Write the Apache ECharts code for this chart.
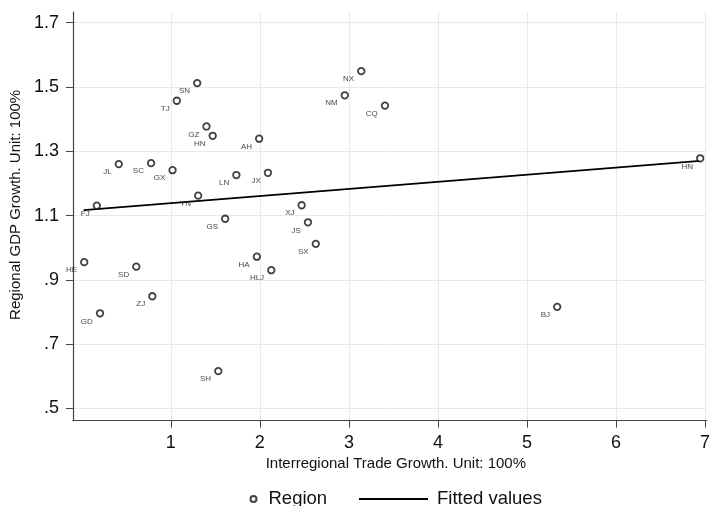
<!DOCTYPE html>
<html>
<head>
<meta charset="utf-8">
<script src="https://cdn.jsdelivr.net/npm/echarts@6/dist/echarts.min.js"></script>
<style>
html,body{margin:0;padding:0;background:#fff;}
#chart{width:713px;height:506px;}
</style>
</head>
<body>
<div id="chart"></div>
<script>
// Region codes
var regions = ['SN','TJ','GZ','HN','AH','JL','SC','GX','LN','JX','YN','FJ','GS','XJ','NX','NM','CQ','JS','HE','SD','ZJ','GD','HA','HLJ','SX','SH','HN','BJ'];
// Interregional trade growth (x)
var tradeGrowth = [1.296,1.067,1.400,1.470,1.992,0.415,0.778,1.019,1.736,2.090,1.307,0.168,1.610,2.469,3.139,2.954,3.405,2.540,0.027,0.612,0.792,0.204,1.966,2.128,2.628,1.533,6.946,5.340];
// Regional GDP growth (y)
var gdpGrowth = [1.512,1.457,1.377,1.348,1.339,1.260,1.263,1.241,1.226,1.233,1.162,1.131,1.090,1.132,1.549,1.474,1.442,1.079,0.955,0.941,0.849,0.796,0.972,0.930,1.012,0.616,1.278,0.816];
// Fitted line end points
var fitX = [0.020, 6.946];
var fitY = [1.117, 1.270];
// Tick values
var xTicks = [1,2,3,4,5,6,7];
var yTicks = [0.5,0.7,0.9,1.1,1.3,1.5,1.7];

var FONT = 'Helvetica, "Liberation Sans", Arial, sans-serif';
var scatterData = regions.map(function(r,i){ return {name:r, value:[tradeGrowth[i], gdpGrowth[i]]}; });
var lineData = fitX.map(function(x,i){ return [x, fitY[i]]; });

var chart = echarts.init(document.getElementById('chart'), null, {renderer:'canvas'});
chart.setOption({
  animation:false,
  backgroundColor:'#fff',
  textStyle:{fontFamily:FONT},
  grid:{left:72, right:0, top:12, bottom:85.3},
  xAxis:{
    type:'value', min:-0.1, max:7.02,
    name:'Interregional Trade Growth. Unit: 100%',
    nameLocation:'middle', nameGap:33,
    nameTextStyle:{fontSize:15, color:'#111', fontFamily:FONT, padding:[0,0,0,12]},
    axisLine:{show:true, onZero:false, lineStyle:{color:'#444', width:1.2}},
    axisTick:{show:true, length:7, customValues:xTicks, lineStyle:{color:'#444'}},
    axisLabel:{customValues:xTicks, fontSize:18, color:'#111', margin:13, fontFamily:FONT},
    splitLine:{show:true, lineStyle:{color:'#e9e9e9', width:1}}
  },
  yAxis:{
    type:'value', min:0.462, max:1.733,
    name:'Regional GDP Growth. Unit: 100%',
    nameLocation:'middle', nameGap:45, nameRotate:90,
    nameTextStyle:{fontSize:15, color:'#111', fontFamily:FONT, padding:[0,0,0,23]},
    axisLine:{show:true, onZero:false, lineStyle:{color:'#444', width:1.2}},
    axisTick:{show:true, length:7, customValues:yTicks, lineStyle:{color:'#444'}},
    axisLabel:{customValues:yTicks, fontSize:18, color:'#111', margin:14, fontFamily:FONT,
      formatter:function(v){ return v.toFixed(1).replace(/^0/, ''); }},
    splitLine:{show:true, lineStyle:{color:'#e9e9e9', width:1}}
  },
  legend:[
    {data:[{name:'Region', icon:'circle'}], left:244.5, top:484, itemWidth:6, itemHeight:6,
     textStyle:{fontSize:18.5, color:'#111', fontFamily:FONT, padding:[0,0,0,7], lineHeight:20}},
    {data:[{name:'Fitted values', icon:'rect', itemStyle:{color:'#000'}}], left:354, top:484, itemWidth:69, itemHeight:2,
     textStyle:{fontSize:18.5, color:'#111', fontFamily:FONT, padding:[0,0,0,4], lineHeight:20}}
  ],
  series:[
    {name:'Region', type:'scatter', data:scatterData, symbol:'circle', symbolSize:6.5,
     itemStyle:{color:'#fff', borderColor:'#111', borderWidth:1.8},
     label:{show:true, position:'left', distance:3, offset:[0,8], formatter:'{b}',
       fontSize:8, color:'#111', fontFamily:FONT}, z:3},
    {name:'Fitted values', type:'line', data:lineData, symbol:'none', color:'#000',
     itemStyle:{color:'#000'},
     lineStyle:{color:'#000', width:1.8}, z:2}
  ]
});
</script>
</body>
</html>
